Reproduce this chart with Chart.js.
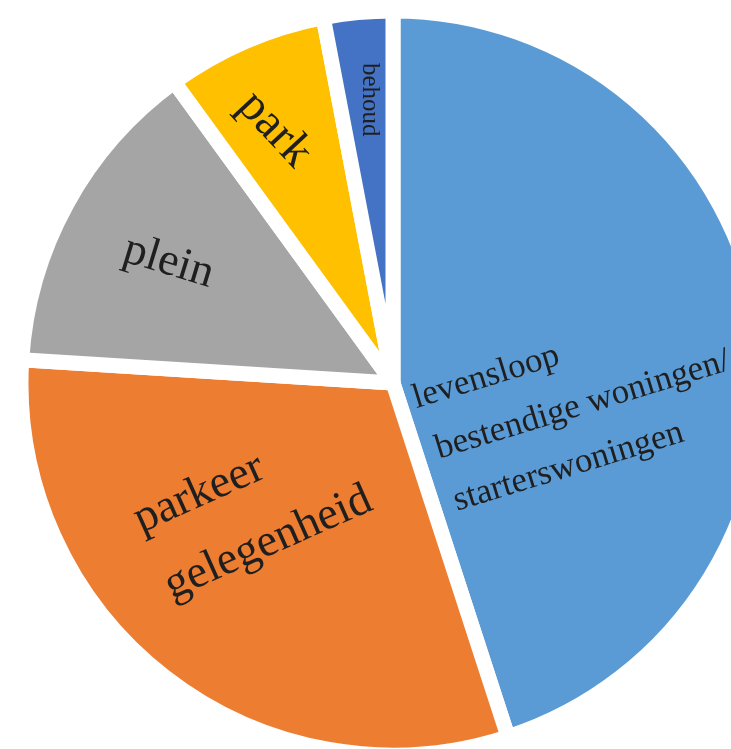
<!DOCTYPE html>
<html>
<head>
<meta charset="utf-8">
<script src="https://cdn.jsdelivr.net/npm/chart.js@4"></script>
<style>
  html, body { margin: 0; padding: 0; background: #fff; overflow: hidden; }
  #wrap { position: absolute; left: 0; top: 0; width: 786px; height: 766px; }
</style>
</head>
<body>
<div id="wrap"><canvas id="pie-chart" width="786" height="766"></canvas></div>
<script>
// Slices, clockwise from 12 o'clock.
var categories = ["levensloop bestendige woningen/ starterswoningen", "parkeer gelegenheid", "plein", "park", "behoud"];
var values = [45, 31, 14, 7, 3];
var labelLines = [
  ["levensloop", "bestendige woningen/", "starterswoningen"],
  ["parkeer", "gelegenheid"],
  ["plein"],
  ["park"],
  ["behoud"]
];
var sliceColors = ["#5B9BD5", "#ED7D31", "#A5A5A5", "#FFC000", "#4472C4"];

// Label placement inside each slice.
// t = position along the slice angle (0..1), r = fraction of the radius,
// rot = text rotation in degrees, size = font px, lh = line height, indent = per line x shift.
var labelStyle = [
  { t: 0.848, r: 0.092, rot: -17, size: 35, lh: 55, indent: [0, 7, 9] },
  { t: 0.692, r: 0.788, rot: -24, size: 46, lh: 73, indent: [0, 1] },
  { t: 0.41, r: 0.802, rot: 17, size: 46, lh: 0, indent: [0] },
  { t: 0.254, r: 0.853, rot: 47, size: 48, lh: 0, indent: [0] },
  { t: 0.5, r: 0.864, rot: 90, size: 25, lh: 0, indent: [0] }
];

// Draw the rotated text labels on top of the slices.
var sliceLabels = {
  id: "sliceLabels",
  afterDatasetsDraw: function (chart) {
    var ctx = chart.ctx;
    var arcs = chart.getDatasetMeta(0).data;
    arcs.forEach(function (arc, i) {
      var p = arc.getProps(["x", "y", "startAngle", "endAngle", "outerRadius"], true);
      var s = labelStyle[i];
      var a = p.startAngle + s.t * (p.endAngle - p.startAngle);
      var x = p.x + Math.cos(a) * p.outerRadius * s.r;
      var y = p.y + Math.sin(a) * p.outerRadius * s.r;
      ctx.save();
      ctx.translate(x, y);
      ctx.rotate((s.rot * Math.PI) / 180);
      ctx.font = s.size + 'px "Liberation Serif", "DejaVu Serif", serif';
      ctx.fillStyle = "#1f1f1f";
      ctx.textAlign = "left";
      ctx.textBaseline = "alphabetic";
      labelLines[i].forEach(function (line, j) {
        ctx.fillText(line, s.indent[j] || 0, j * s.lh);
      });
      ctx.restore();
    });
  }
};

var ctx = document.getElementById("pie-chart").getContext("2d");
var pieChart = new Chart(ctx, {
  type: "pie",
  data: {
    labels: categories,
    datasets: [
      {
        data: values,
        backgroundColor: sliceColors,
        borderColor: "#ffffff",
        borderWidth: 15,
        hoverOffset: 0,
        radius: 372
      }
    ]
  },
  options: {
    responsive: false,
    animation: false,
    events: [],
    layout: { padding: 0 },
    plugins: {
      legend: { display: false },
      tooltip: { enabled: false }
    }
  },
  plugins: [sliceLabels]
});
</script>
</body>
</html>
